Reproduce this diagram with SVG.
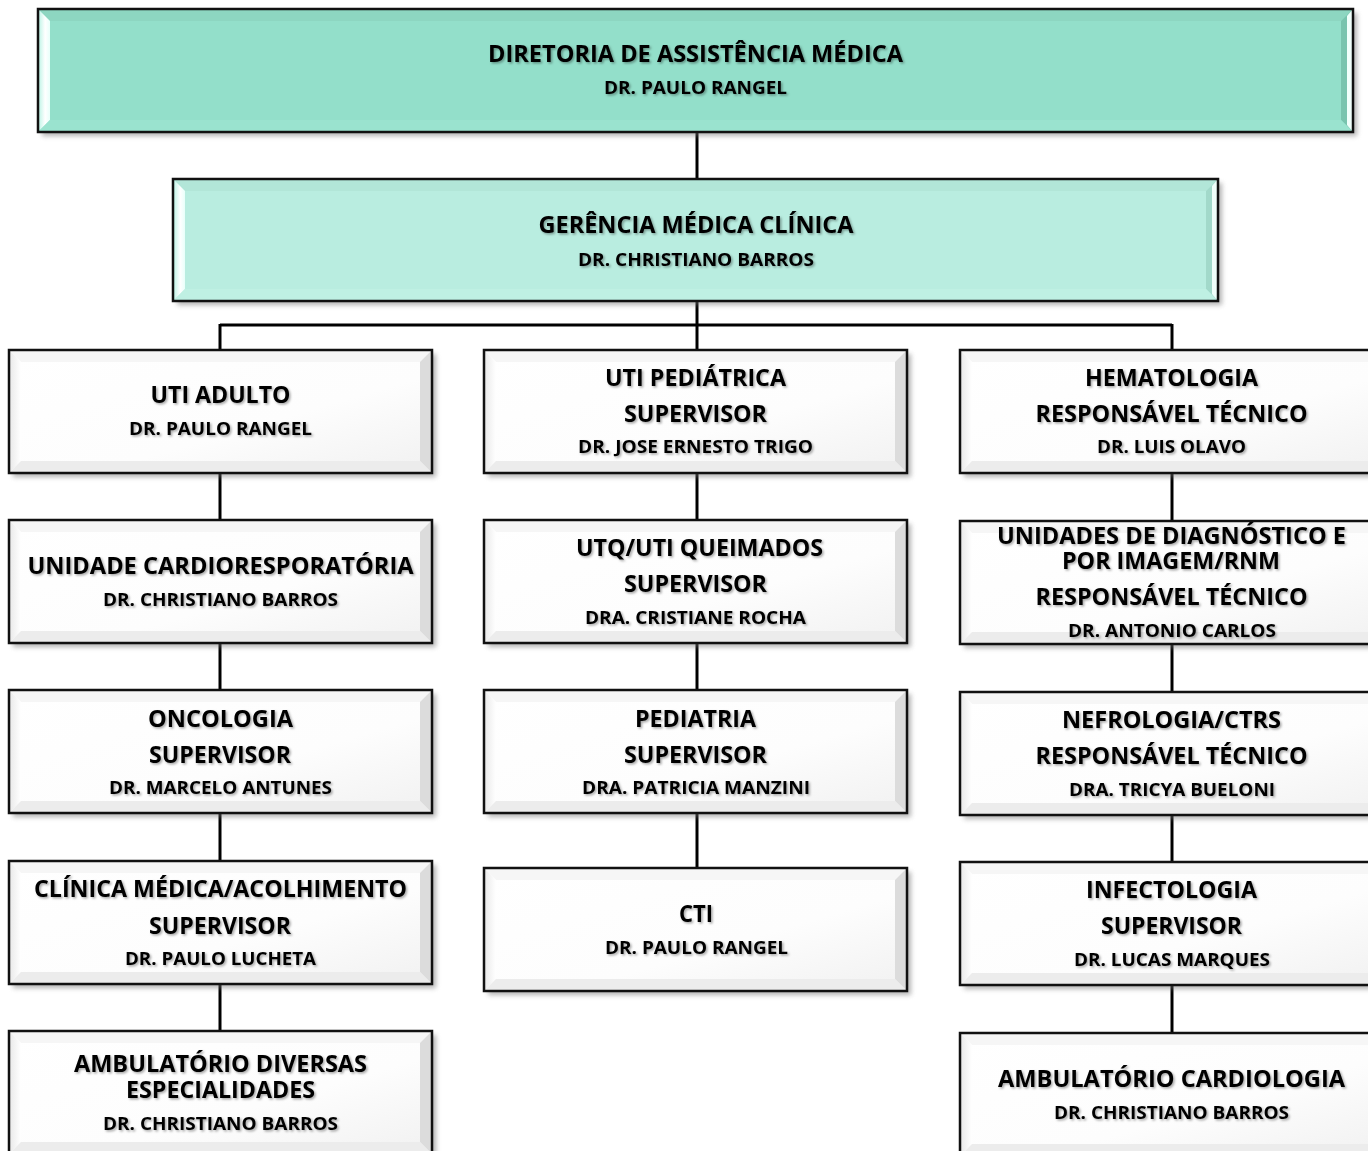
<svg xmlns="http://www.w3.org/2000/svg" width="1368" height="1151" viewBox="0 0 1368 1151">
<defs>
<filter id="ts" x="-5%" y="-30%" width="110%" height="160%">
<feDropShadow dx="1.5" dy="1.5" stdDeviation="0.8" flood-color="#000" flood-opacity="0.35"/>
</filter>
<filter id="bs" x="-5%" y="-10%" width="110%" height="130%">
<feGaussianBlur stdDeviation="2.5"/>
</filter>
<linearGradient id="wface" x1="0" y1="0" x2="1" y2="1">
<stop offset="0" stop-color="#ffffff"/>
<stop offset="0.6" stop-color="#fdfdfd"/>
<stop offset="1" stop-color="#f1f1f1"/>
</linearGradient>
<linearGradient id="wleft" x1="0" y1="0" x2="1" y2="0">
<stop offset="0" stop-color="#e8e8e8"/>
<stop offset="1" stop-color="#ffffff"/>
</linearGradient>
<linearGradient id="tleft" x1="0" y1="0" x2="1" y2="0">
<stop offset="0" stop-color="#b8f3e4"/>
<stop offset="0.6" stop-color="#ffffff"/>
<stop offset="1" stop-color="#e8fffa"/>
</linearGradient>
<symbol id="wbox" overflow="visible">
<rect x="4" y="4" width="423" height="123" fill="#777" opacity="0.55" filter="url(#bs)"/>
<rect x="0" y="0" width="423" height="123" fill="url(#wface)"/>
<polygon points="0,0 423,0 411,12 12,12" fill="#f6f6f6"/>
<polygon points="0,0 12,12 12,111 0,123" fill="url(#wleft)"/>
<polygon points="423,0 423,123 411,111 411,12" fill="#dcdcdc"/>
<polygon points="0,123 423,123 411,111 12,111" fill="#ececec"/>
<rect x="0" y="0" width="423" height="123" fill="none" stroke="#111" stroke-width="2.5"/>
</symbol>
</defs>
<style>
text { font-family: "Open Sans", "Liberation Sans", sans-serif; font-weight: 700; fill: #000; text-anchor: middle; filter: url(#ts); }
.t { font-size: 22.5px; }
.n { font-size: 17px; }
.conn line { stroke: #000; stroke-width: 3; }
</style>
<rect width="1368" height="1151" fill="#fff"/>

<g id="connectors" class="conn">
<line x1="697" y1="132" x2="697" y2="179"/>
<line x1="697" y1="301" x2="697" y2="350"/>
<line x1="220" y1="325" x2="1172" y2="325"/>
<line x1="220" y1="324" x2="220" y2="350"/>
<line x1="1172" y1="324" x2="1172" y2="350"/>
<line x1="220" y1="473" x2="220" y2="520"/>
<line x1="220" y1="643" x2="220" y2="690"/>
<line x1="220" y1="813" x2="220" y2="861"/>
<line x1="220" y1="984" x2="220" y2="1031"/>
<line x1="697" y1="473" x2="697" y2="520"/>
<line x1="697" y1="643" x2="697" y2="690"/>
<line x1="697" y1="813" x2="697" y2="868"/>
<line x1="1172" y1="473" x2="1172" y2="520"/>
<line x1="1172" y1="644" x2="1172" y2="692"/>
<line x1="1172" y1="815" x2="1172" y2="862"/>
<line x1="1172" y1="985" x2="1172" y2="1033"/>
</g>

<g id="diretoria">
<rect x="42" y="13" width="1315" height="123" fill="#777" opacity="0.55" filter="url(#bs)"/>
<rect x="38" y="9" width="1315" height="123" fill="#93dfca"/>
<polygon points="38,9 1353,9 1341,21 50,21" fill="#8dd6c1"/>
<polygon points="38,9 50,21 50,120 38,132" fill="url(#tleft)"/>
<polygon points="1353,9 1353,132 1341,120 1341,21" fill="#78c4ae"/>
<polygon points="1353,9 1353,132 1347,125 1347,16" fill="#f0fffb"/>
<polygon points="38,132 1353,132 1341,120 50,120" fill="#9ae3cf"/>
<rect x="38" y="9" width="1315" height="123" fill="none" stroke="#111" stroke-width="2.5"/>
<text class="t" x="695.5" y="62" textLength="415" lengthAdjust="spacingAndGlyphs">DIRETORIA DE ASSISTÊNCIA MÉDICA</text>
<text class="n" x="695.5" y="94" textLength="183" lengthAdjust="spacingAndGlyphs">DR. PAULO RANGEL</text>
</g>

<g id="gerencia">
<rect x="177" y="183" width="1045" height="122" fill="#777" opacity="0.55" filter="url(#bs)"/>
<rect x="173" y="179" width="1045" height="122" fill="#b9ede0"/>
<polygon points="173,179 1218,179 1206,191 185,191" fill="#b2e6d8"/>
<polygon points="173,179 185,191 185,289 173,301" fill="url(#tleft)"/>
<polygon points="1218,179 1218,301 1206,289 1206,191" fill="#a2d9ca"/>
<polygon points="1218,179 1218,301 1212,294 1212,186" fill="#f0fffb"/>
<polygon points="173,301 1218,301 1206,289 185,289" fill="#bff0e3"/>
<rect x="173" y="179" width="1045" height="122" fill="none" stroke="#111" stroke-width="2.5"/>
<text class="t" x="696" y="233" textLength="315" lengthAdjust="spacingAndGlyphs">GERÊNCIA MÉDICA CLÍNICA</text>
<text class="n" x="696" y="266" textLength="236" lengthAdjust="spacingAndGlyphs">DR. CHRISTIANO BARROS</text>
</g>

<g id="uti-adulto">
<use href="#wbox" x="9" y="350"/>
<text class="t" x="220.5" y="403" textLength="140" lengthAdjust="spacingAndGlyphs">UTI ADULTO</text>
<text class="n" x="220.5" y="435" textLength="183" lengthAdjust="spacingAndGlyphs">DR. PAULO RANGEL</text>
</g>

<g id="uti-pediatrica">
<use href="#wbox" x="484" y="350"/>
<text class="t" x="695.5" y="386" textLength="181" lengthAdjust="spacingAndGlyphs">UTI PEDIÁTRICA</text>
<text class="t" x="695.5" y="422" textLength="143" lengthAdjust="spacingAndGlyphs">SUPERVISOR</text>
<text class="n" x="695.5" y="453" textLength="235" lengthAdjust="spacingAndGlyphs">DR. JOSE ERNESTO TRIGO</text>
</g>

<g id="hematologia">
<use href="#wbox" x="960" y="350"/>
<text class="t" x="1171.5" y="386" textLength="173" lengthAdjust="spacingAndGlyphs">HEMATOLOGIA</text>
<text class="t" x="1171.5" y="422" textLength="272" lengthAdjust="spacingAndGlyphs">RESPONSÁVEL TÉCNICO</text>
<text class="n" x="1171.5" y="453" textLength="149" lengthAdjust="spacingAndGlyphs">DR. LUIS OLAVO</text>
</g>

<g id="cardiorespiratoria">
<use href="#wbox" x="9" y="520"/>
<text class="t" x="220.5" y="574" textLength="386" lengthAdjust="spacingAndGlyphs">UNIDADE CARDIORESPORATÓRIA</text>
<text class="n" x="220.5" y="606" textLength="235" lengthAdjust="spacingAndGlyphs">DR. CHRISTIANO BARROS</text>
</g>

<g id="utq">
<use href="#wbox" x="484" y="520"/>
<text class="t" x="699.5" y="556" textLength="247" lengthAdjust="spacingAndGlyphs">UTQ/UTI QUEIMADOS</text>
<text class="t" x="695.5" y="592" textLength="143" lengthAdjust="spacingAndGlyphs">SUPERVISOR</text>
<text class="n" x="695.5" y="624" textLength="221" lengthAdjust="spacingAndGlyphs">DRA. CRISTIANE ROCHA</text>
</g>

<g id="diagnostico">
<use href="#wbox" x="960" y="521"/>
<text class="t" x="1171.5" y="544" textLength="349" lengthAdjust="spacingAndGlyphs">UNIDADES DE DIAGNÓSTICO E</text>
<text class="t" x="1171" y="569" textLength="218" lengthAdjust="spacingAndGlyphs">POR IMAGEM/RNM</text>
<text class="t" x="1171.5" y="605" textLength="272" lengthAdjust="spacingAndGlyphs">RESPONSÁVEL TÉCNICO</text>
<text class="n" x="1172" y="637" textLength="208" lengthAdjust="spacingAndGlyphs">DR. ANTONIO CARLOS</text>
</g>

<g id="oncologia">
<use href="#wbox" x="9" y="690"/>
<text class="t" x="220.5" y="727" textLength="145" lengthAdjust="spacingAndGlyphs">ONCOLOGIA</text>
<text class="t" x="220" y="763" textLength="142" lengthAdjust="spacingAndGlyphs">SUPERVISOR</text>
<text class="n" x="220.5" y="794" textLength="223" lengthAdjust="spacingAndGlyphs">DR. MARCELO ANTUNES</text>
</g>

<g id="pediatria">
<use href="#wbox" x="484" y="690"/>
<text class="t" x="695.5" y="727" textLength="121" lengthAdjust="spacingAndGlyphs">PEDIATRIA</text>
<text class="t" x="695.5" y="763" textLength="143" lengthAdjust="spacingAndGlyphs">SUPERVISOR</text>
<text class="n" x="696" y="794" textLength="228" lengthAdjust="spacingAndGlyphs">DRA. PATRICIA MANZINI</text>
</g>

<g id="nefrologia">
<use href="#wbox" x="960" y="692"/>
<text class="t" x="1171.5" y="728" textLength="219" lengthAdjust="spacingAndGlyphs">NEFROLOGIA/CTRS</text>
<text class="t" x="1171.5" y="764" textLength="272" lengthAdjust="spacingAndGlyphs">RESPONSÁVEL TÉCNICO</text>
<text class="n" x="1172" y="796" textLength="206" lengthAdjust="spacingAndGlyphs">DRA. TRICYA BUELONI</text>
</g>

<g id="clinica-medica">
<use href="#wbox" x="9" y="861"/>
<text class="t" x="220.5" y="897" textLength="373" lengthAdjust="spacingAndGlyphs">CLÍNICA MÉDICA/ACOLHIMENTO</text>
<text class="t" x="220" y="934" textLength="142" lengthAdjust="spacingAndGlyphs">SUPERVISOR</text>
<text class="n" x="220.5" y="965" textLength="191" lengthAdjust="spacingAndGlyphs">DR. PAULO LUCHETA</text>
</g>

<g id="cti">
<use href="#wbox" x="484" y="868"/>
<text class="t" x="696" y="922" textLength="34" lengthAdjust="spacingAndGlyphs">CTI</text>
<text class="n" x="696.5" y="954" textLength="183" lengthAdjust="spacingAndGlyphs">DR. PAULO RANGEL</text>
</g>

<g id="infectologia">
<use href="#wbox" x="960" y="862"/>
<text class="t" x="1171.5" y="898" textLength="171" lengthAdjust="spacingAndGlyphs">INFECTOLOGIA</text>
<text class="t" x="1171.5" y="934" textLength="141" lengthAdjust="spacingAndGlyphs">SUPERVISOR</text>
<text class="n" x="1172" y="966" textLength="196" lengthAdjust="spacingAndGlyphs">DR. LUCAS MARQUES</text>
</g>

<g id="ambulatorio-diversas">
<use href="#wbox" x="9" y="1031"/>
<text class="t" x="220.5" y="1072" textLength="293" lengthAdjust="spacingAndGlyphs">AMBULATÓRIO DIVERSAS</text>
<text class="t" x="220.5" y="1098" textLength="189" lengthAdjust="spacingAndGlyphs">ESPECIALIDADES</text>
<text class="n" x="220.5" y="1130" textLength="235" lengthAdjust="spacingAndGlyphs">DR. CHRISTIANO BARROS</text>
</g>

<g id="ambulatorio-cardiologia">
<use href="#wbox" x="960" y="1033"/>
<text class="t" x="1171.5" y="1087" textLength="347" lengthAdjust="spacingAndGlyphs">AMBULATÓRIO CARDIOLOGIA</text>
<text class="n" x="1171.5" y="1119" textLength="235" lengthAdjust="spacingAndGlyphs">DR. CHRISTIANO BARROS</text>
</g>
</svg>
